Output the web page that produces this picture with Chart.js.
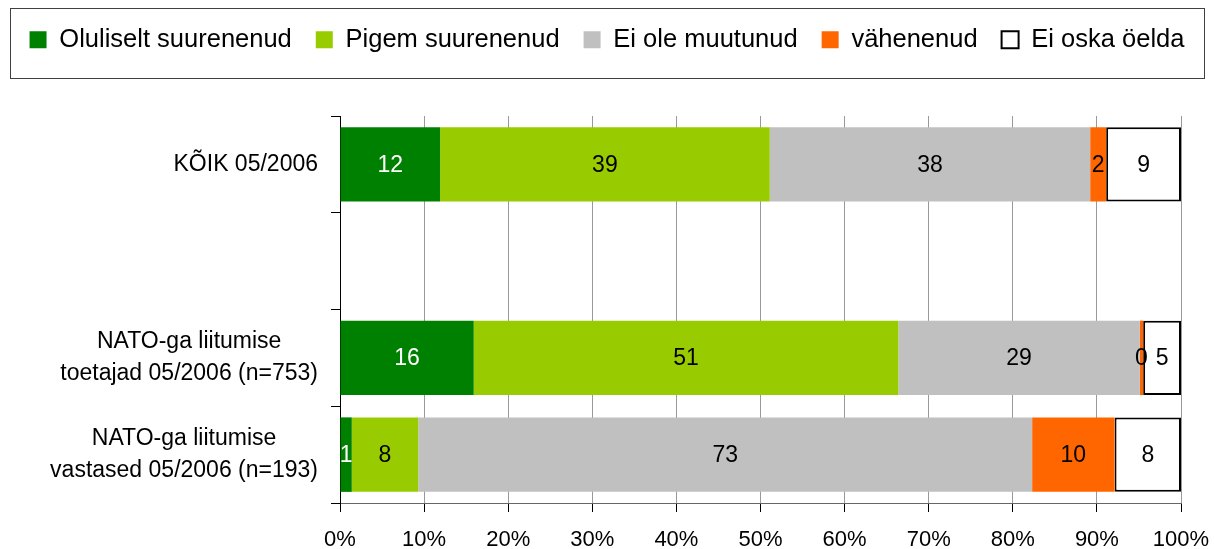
<!DOCTYPE html>
<html>
<head>
<meta charset="utf-8">
<script src="https://cdn.jsdelivr.net/npm/chart.js@4"></script>
<style>
  body { margin: 0; background: #fff; }
</style>
</head>
<body>
<canvas id="chart" width="1214" height="549"></canvas>
<script>
// kategooriad (tühi rida KÕIK ja NATO ridade vahel)
const categories = [
    'KÕIK 05/2006',
    '',
    ['NATO-ga liitumise', 'toetajad 05/2006 (n=753)'],
    ['NATO-ga liitumise', 'vastased 05/2006 (n=193)']
];

const seriesNames = ['Oluliselt suurenenud', 'Pigem suurenenud', 'Ei ole muutunud', 'vähenenud', 'Ei oska öelda'];

// väärtused protsentides, loetud pildilt
const olulisedSuurenenud = [11.9, null, 15.9, 1.4];
const pigemSuurenenud   = [39.2, null, 50.5, 7.9];
const eiOleMuutunud     = [38.1, null, 28.7, 73.0];
const vahenenud         = [1.9,  null, 0.4,  9.8];
const eiOskaOelda       = [8.9,  null, 4.5,  7.9];

const xTicks = [0, 10, 20, 30, 40, 50, 60, 70, 80, 90, 100];

const colors = ['#008000', '#99CC00', '#C0C0C0', '#FF6600', '#FFFFFF'];
const labelColors = ['#FFFFFF', '#000000', '#000000', '#000000', '#000000'];

const FONT = '"Liberation Sans", Arial, sans-serif';
Chart.defaults.font.family = FONT;
Chart.defaults.color = '#000';

// raam legendi ümber
const legendFrame = {
    id: 'legendFrame',
    afterDraw(chart) {
        const ctx = chart.ctx;
        ctx.save();
        ctx.strokeStyle = '#404040';
        ctx.lineWidth = 1;
        ctx.strokeRect(10.5, 8.5, 1194, 70);
        ctx.restore();
    }
};

// numbrid tulpade sees
const barLabels = {
    id: 'barLabels',
    afterDatasetsDraw(chart) {
        const ctx = chart.ctx;
        ctx.save();
        ctx.font = '23px ' + FONT;
        ctx.textAlign = 'center';
        ctx.textBaseline = 'middle';
        chart.data.datasets.forEach((ds, di) => {
            chart.getDatasetMeta(di).data.forEach((bar, i) => {
                const v = ds.data[i];
                if (v == null) return;
                const p = bar.getProps(['x', 'base', 'y'], true);
                ctx.fillStyle = labelColors[di];
                ctx.fillText(Math.round(v), (p.x + p.base) / 2, p.y + 1);
            });
        });
        ctx.restore();
    }
};

// kategooriate nimed: read omavahel keskel, plokk paremale joondatud
const catLabels = {
    id: 'catLabels',
    afterDraw(chart) {
        const ctx = chart.ctx;
        const ys = chart.scales.y;
        ctx.save();
        ctx.font = '23px ' + FONT;
        ctx.fillStyle = '#000';
        ctx.textAlign = 'center';
        ctx.textBaseline = 'middle';
        categories.forEach((lab, i) => {
            const lines = [].concat(lab);
            const w = Math.max(...lines.map(l => ctx.measureText(l).width));
            const cx = ys.right - 22 - w / 2;
            const cy = ys.getPixelForTick(i);
            lines.forEach((l, j) => {
                ctx.fillText(l, cx, cy + (j - (lines.length - 1) / 2) * 32);
            });
        });
        ctx.restore();
    }
};

const seriesData = [olulisedSuurenenud, pigemSuurenenud, eiOleMuutunud, vahenenud, eiOskaOelda];

new Chart(document.getElementById('chart'), {
    type: 'bar',
    data: {
        labels: categories,
        datasets: seriesNames.map((name, i) => ({
            label: name,
            data: seriesData[i],
            backgroundColor: colors[i],
            borderColor: i === 4 ? '#000' : colors[i],
            borderWidth: i === 4 ? 2 : 0,
            borderSkipped: false,
            categoryPercentage: 0.77,
            barPercentage: 1
        }))
    },
    options: {
        indexAxis: 'y',
        responsive: false,
        animation: false,
        devicePixelRatio: 1,
        layout: { padding: { top: 3, left: 0, right: 0, bottom: 0 } },
        plugins: {
            legend: {
                position: 'top',
                labels: {
                    boxWidth: 17,
                    boxHeight: 17,
                    padding: 24,
                    color: '#000',
                    font: { size: 25.5 }
                }
            },
            title: {
                display: true,
                text: '',
                weight: 500,
                font: { size: 1 },
                padding: { top: 0, bottom: 52.3 }
            },
            tooltip: { enabled: false }
        },
        scales: {
            x: {
                stacked: true,
                min: 0,
                max: 100,
                afterBuildTicks(scale) {
                    scale.ticks = xTicks.map(v => ({ value: v }));
                },
                afterFit(scale) {
                    scale.height = 46;
                    scale.paddingRight = 33;
                },
                ticks: {
                    padding: 15,
                    font: { size: 22 },
                    color: '#000',
                    maxRotation: 0,
                    callback: v => v + '%'
                },
                grid: { color: '#999', tickColor: '#000', tickLength: 9 },
                border: { color: '#666' }
            },
            y: {
                stacked: true,
                afterFit(scale) { scale.width = 340; },
                ticks: { display: false },
                grid: { drawOnChartArea: false, color: '#000', tickLength: 9 },
                border: { color: '#000' }
            }
        }
    },
    plugins: [legendFrame, barLabels, catLabels]
});
</script>
</body>
</html>
